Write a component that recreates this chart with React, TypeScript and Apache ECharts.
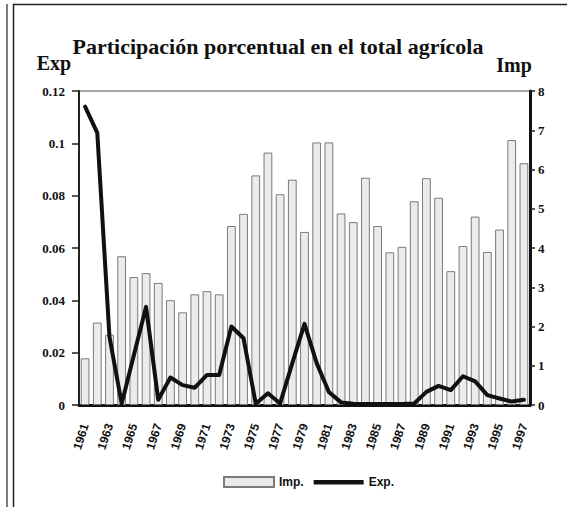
import React, { useEffect, useRef } from "react";
import * as echarts from "echarts";

const years = [
  "1961", "1962", "1963", "1964", "1965", "1966", "1967", "1968", "1969", "1970",
  "1971", "1972", "1973", "1974", "1975", "1976", "1977", "1978", "1979", "1980",
  "1981", "1982", "1983", "1984", "1985", "1986", "1987", "1988", "1989", "1990",
  "1991", "1992", "1993", "1994", "1995", "1996", "1997",
];

// Imp. (right axis, 0-8)
const impValues = [
  1.19, 2.1, 1.79, 3.79, 3.26, 3.36, 3.11, 2.67, 2.36, 2.82,
  2.9, 2.82, 4.56, 4.87, 5.85, 6.43, 5.37, 5.74, 4.41, 6.69,
  6.69, 4.88, 4.66, 5.79, 4.56, 3.89, 4.03, 5.19, 5.78, 5.28,
  3.41, 4.05, 4.8, 3.9, 4.47, 6.75, 6.16,
];

// Exp. (left axis, 0-0.12)
const expValues = [
  0.114, 0.104, 0.026, 0.0005, 0.019, 0.0375, 0.002, 0.0105, 0.0076, 0.0066,
  0.0115, 0.0115, 0.03, 0.0255, 0.0005, 0.0045, 0.0006, 0.016, 0.031, 0.016,
  0.005, 0.001, 0.0005, 0.0004, 0.0004, 0.0004, 0.0004, 0.0006, 0.005, 0.0073,
  0.0057, 0.011, 0.009, 0.0038, 0.0025, 0.0013, 0.002,
];

const titleText = "Participación porcentual en el total agrícola";
const leftAxisName = "Exp";
const rightAxisName = "Imp";

const serif = '"Liberation Serif", "DejaVu Serif", serif';
const narrow = '"Liberation Sans Narrow", "Liberation Sans", Arial, sans-serif';

export default function App() {
  const ref = useRef<HTMLDivElement>(null);

  useEffect(() => {
    document.body.style.margin = "0";
    if (!ref.current) return;
    const chart = echarts.init(ref.current, undefined, { renderer: "svg" });
    chart.setOption({
      animation: false,
      backgroundColor: "#ffffff",
      grid: {
        left: 79,
        right: 37,
        top: 91,
        bottom: 102,
        show: true,
        borderColor: "#8a8a8a",
        borderWidth: 1.5,
        backgroundColor: "transparent",
      },
      legend: {
        left: 218,
        top: 471,
        itemWidth: 50,
        itemHeight: 10,
        itemGap: 10,
        textStyle: { fontFamily: narrow, fontWeight: "bold", fontSize: 12, color: "#111" },
        data: [
          { name: "Imp.", icon: "rect" },
          { name: "Exp.", icon: "path://M0,0M0,3L50,3L50,7.5L0,7.5ZM50,10" },
        ],
      },
      xAxis: {
        type: "category",
        data: years,
        boundaryGap: true,
        axisLine: { show: true, lineStyle: { color: "#111", width: 3 } },
        axisTick: { show: false },
        axisLabel: {
          interval: 1,
          rotate: 72,
          margin: 19,
          fontFamily: narrow,
          fontWeight: "bold",
          fontSize: 12,
          color: "#111",
        },
        splitLine: { show: false },
      },
      yAxis: [
        {
          type: "value",
          min: 0,
          max: 0.12,
          interval: 0.02,
          position: "left",
          axisLine: { show: true, lineStyle: { color: "#222", width: 2 } },
          axisTick: { show: true, length: 7, inside: false, lineStyle: { color: "#222", width: 1.5 } },
          axisLabel: {
            margin: 14,
            fontFamily: serif,
            fontWeight: "bold",
            fontSize: 13,
            color: "#111",
            formatter: (v: number) => String(Math.round(v * 100) / 100),
          },
          splitLine: { show: false },
        },
        {
          type: "value",
          min: 0,
          max: 8,
          interval: 1,
          position: "right",
          axisLine: { show: true, lineStyle: { color: "#111", width: 3 } },
          axisTick: { show: true, length: 5, inside: false, lineStyle: { color: "#222", width: 1.5 } },
          axisLabel: {
            margin: 8,
            fontFamily: serif,
            fontWeight: "bold",
            fontSize: 13,
            color: "#111",
          },
          splitLine: { show: false },
        },
      ],
      graphic: [
        {
          type: "line",
          shape: { x1: 7, y1: 4, x2: 7, y2: 507 },
          style: { stroke: "#222", lineWidth: 1.2 },
        },
        {
          type: "rect",
          shape: { x: 13.5, y: 4.5, width: 600, height: 600 },
          style: { stroke: "#222", lineWidth: 1.5, fill: "none" },
        },
        {
          type: "text",
          x: 278,
          y: 46,
          style: {
            text: titleText,
            font: `bold 22px ${serif}`,
            fill: "#111",
            textAlign: "center",
            textVerticalAlign: "middle",
          },
        },
        {
          type: "text",
          x: 54,
          y: 63,
          style: {
            text: leftAxisName,
            font: `bold 20px ${serif}`,
            fill: "#111",
            textAlign: "center",
            textVerticalAlign: "middle",
          },
        },
        {
          type: "text",
          x: 514,
          y: 65,
          style: {
            text: rightAxisName,
            font: `bold 20px ${serif}`,
            fill: "#111",
            textAlign: "center",
            textVerticalAlign: "middle",
          },
        },
      ],
      series: [
        {
          name: "Imp.",
          type: "bar",
          yAxisIndex: 1,
          data: impValues,
          barCategoryGap: "28%",
          itemStyle: { color: "#ebebeb", borderColor: "#7a7a7a", borderWidth: 1 },
          z: 2,
        },
        {
          name: "Exp.",
          type: "line",
          yAxisIndex: 0,
          data: expValues,
          symbol: "none",
          showSymbol: false,
          lineStyle: { color: "#111", width: 4, join: "round", cap: "round" },
          itemStyle: { color: "#111" },
          z: 3,
        },
      ],
    });
    return () => chart.dispose();
  }, []);

  return <div ref={ref} style={{ width: 567, height: 507 }} />;
}
